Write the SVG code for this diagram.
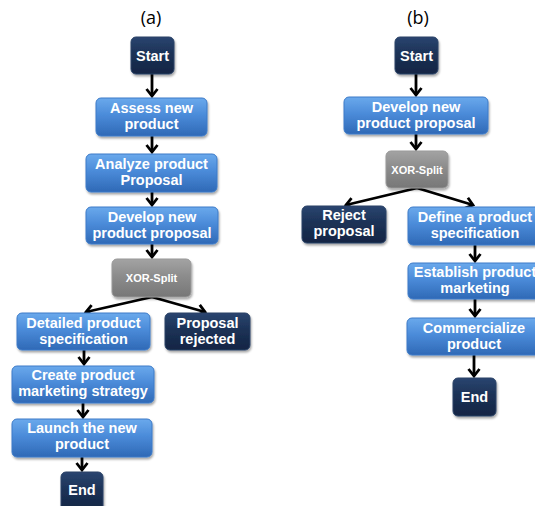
<svg xmlns="http://www.w3.org/2000/svg" width="535" height="506" viewBox="0 0 535 506">
<defs>
<linearGradient id="gBlue" x1="0" y1="0" x2="0" y2="1">
<stop offset="0" stop-color="#6aa9ec"/>
<stop offset="0.45" stop-color="#4b8bd9"/>
<stop offset="1" stop-color="#2f69b6"/>
</linearGradient>
<linearGradient id="gDark" x1="0" y1="0" x2="0" y2="1">
<stop offset="0" stop-color="#2a4570"/>
<stop offset="0.45" stop-color="#1c3256"/>
<stop offset="1" stop-color="#132544"/>
</linearGradient>
<linearGradient id="gGray" x1="0" y1="0" x2="0" y2="1">
<stop offset="0" stop-color="#a3a3a3"/>
<stop offset="0.45" stop-color="#8c8c8c"/>
<stop offset="1" stop-color="#777777"/>
</linearGradient>
<filter id="sh" x="-20%" y="-20%" width="140%" height="150%">
<feDropShadow dx="1" dy="2" stdDeviation="1.3" flood-color="#000" flood-opacity="0.35"/>
</filter>
<marker id="ah" viewBox="0 0 14 14" markerWidth="14" markerHeight="14" refX="9" refY="7" orient="auto" markerUnits="userSpaceOnUse">
<path d="M2,1.5 L9,7 L2,12.5" fill="none" stroke="#000" stroke-width="2.8"/>
</marker>
</defs>
<style>
.blue{fill:url(#gBlue);stroke:#3d7bc8;stroke-width:1;filter:url(#sh)}
.dark{fill:url(#gDark);stroke:#2a4266;stroke-width:1;filter:url(#sh)}
.gray{fill:url(#gGray);stroke:#999;stroke-width:1;filter:url(#sh)}
text{font-family:"Liberation Sans",Arial,sans-serif;font-weight:bold;fill:#fff;text-anchor:middle}
.t{font-size:14.5px}
.s{font-size:11px}
.h{font-family:"Open Sans","Liberation Sans",sans-serif;font-weight:normal;fill:#000;font-size:18px}
.c line{stroke:#000;stroke-width:2.8;fill:none;marker-end:url(#ah)}
</style>
<text class="h" x="151" y="24">(a)</text>
<text class="h" x="418" y="24">(b)</text>
<g class="c" id="connectors">
<line x1="152" y1="74" x2="152" y2="96"/>
<line x1="152" y1="136" x2="152" y2="152"/>
<line x1="152" y1="192" x2="152" y2="205"/>
<line x1="152" y1="244" x2="152" y2="257"/>
<line x1="152" y1="297" x2="86" y2="312"/>
<line x1="152" y1="297" x2="205" y2="312"/>
<line x1="84" y1="350" x2="84" y2="364"/>
<line x1="83" y1="403" x2="83" y2="417"/>
<line x1="82" y1="457" x2="82" y2="470"/>
<line x1="416" y1="74" x2="416" y2="95"/>
<line x1="416" y1="134" x2="416" y2="149"/>
<line x1="417" y1="188" x2="346" y2="205"/>
<line x1="417" y1="188" x2="473" y2="205"/>
<line x1="475" y1="245" x2="475" y2="261"/>
<line x1="475" y1="299" x2="475" y2="316"/>
<line x1="474" y1="355" x2="474" y2="376"/>
</g>
<g id="a-start"><rect class="dark" x="131" y="37" width="43" height="37" rx="5"/><text class="t" x="152.5" y="61">Start</text></g>
<g id="a-assess"><rect class="blue" x="96" y="98" width="111" height="38" rx="5"/><text class="t" x="151.5" y="113">Assess new</text><text class="t" x="151.5" y="129">product</text></g>
<g id="a-analyze"><rect class="blue" x="86" y="154" width="131" height="38" rx="5"/><text class="t" x="151.5" y="169">Analyze product</text><text class="t" x="151.5" y="185">Proposal</text></g>
<g id="a-develop"><rect class="blue" x="86" y="207" width="132" height="37" rx="5"/><text class="t" x="152" y="222">Develop new</text><text class="t" x="152" y="238">product proposal</text></g>
<g id="a-xor"><rect class="gray" x="112" y="259" width="79" height="38" rx="5"/><text class="s" x="151.5" y="282">XOR-Split</text></g>
<g id="a-detailed"><rect class="blue" x="17" y="313" width="133" height="37" rx="5"/><text class="t" x="83.5" y="328">Detailed product</text><text class="t" x="83.5" y="344">specification</text></g>
<g id="a-rejected"><rect class="dark" x="165" y="313" width="85" height="37" rx="5"/><text class="t" x="207.5" y="328">Proposal</text><text class="t" x="207.5" y="344">rejected</text></g>
<g id="a-create"><rect class="blue" x="12" y="366" width="142" height="37" rx="5"/><text class="t" x="83" y="380">Create product</text><text class="t" x="83" y="396">marketing strategy</text></g>
<g id="a-launch"><rect class="blue" x="12" y="419" width="140" height="38" rx="5"/><text class="t" x="82" y="433">Launch the new</text><text class="t" x="82" y="449">product</text></g>
<g id="a-end"><rect class="dark" x="61" y="472" width="42" height="40" rx="5"/><text class="t" x="82" y="495">End</text></g>
<g id="b-start"><rect class="dark" x="395" y="37" width="43" height="37" rx="5"/><text class="t" x="416.5" y="61">Start</text></g>
<g id="b-develop"><rect class="blue" x="344" y="97" width="144" height="37" rx="5"/><text class="t" x="416" y="112">Develop new</text><text class="t" x="416" y="128">product proposal</text></g>
<g id="b-xor"><rect class="gray" x="386" y="151" width="62" height="37" rx="5"/><text class="s" x="417" y="174">XOR-Split</text></g>
<g id="b-reject"><rect class="dark" x="302" y="206" width="84" height="37" rx="5"/><text class="t" x="344" y="220">Reject</text><text class="t" x="344" y="236">proposal</text></g>
<g id="b-define"><rect class="blue" x="408" y="207" width="136" height="38" rx="5"/><text class="t" x="475" y="222">Define a product</text><text class="t" x="475" y="238">specification</text></g>
<g id="b-establish"><rect class="blue" x="408" y="263" width="136" height="36" rx="5"/><text class="t" x="475" y="277">Establish product</text><text class="t" x="475" y="293">marketing</text></g>
<g id="b-commercialize"><rect class="blue" x="407" y="318" width="136" height="37" rx="5"/><text class="t" x="474" y="333">Commercialize</text><text class="t" x="474" y="349">product</text></g>
<g id="b-end"><rect class="dark" x="453" y="378" width="43" height="38" rx="5"/><text class="t" x="474.5" y="402">End</text></g>
</svg>
